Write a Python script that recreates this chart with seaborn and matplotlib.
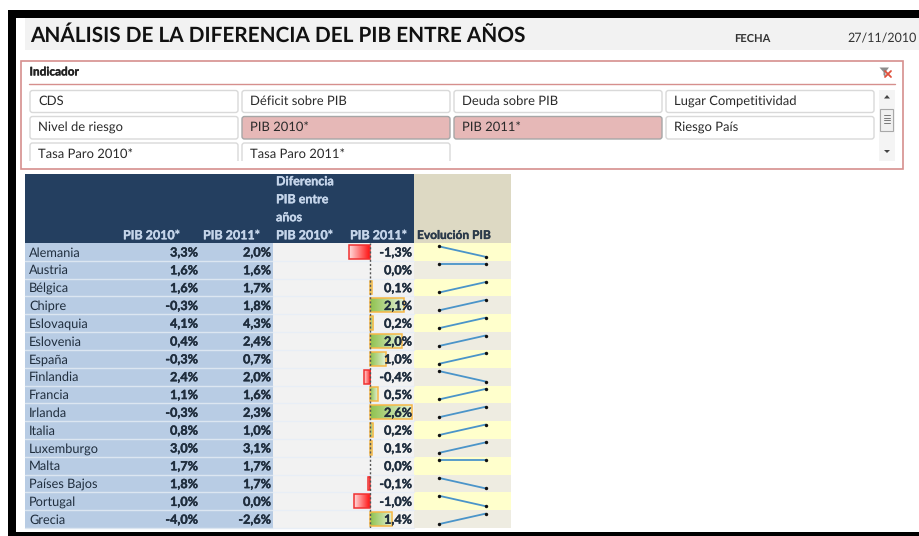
import matplotlib
matplotlib.use("Agg")
import matplotlib.patheffects as pe
import matplotlib.pyplot as plt
import numpy as np
import pandas as pd
import seaborn as sns
from matplotlib.colors import LinearSegmentedColormap
from matplotlib.patches import FancyBboxPatch, Polygon, Rectangle

W, H = 920, 536

countries = ["Alemania", "Austria", "Bélgica", "Chipre", "Eslovaquia", "Eslovenia",
             "España", "Finlandia", "Francia", "Irlanda", "Italia", "Luxemburgo",
             "Malta", "Países Bajos", "Portugal", "Grecia"]
pib_2010 = [3.3, 1.6, 1.6, -0.3, 4.1, 0.4, -0.3, 2.4, 1.1, -0.3, 0.8, 3.0, 1.7, 1.8, 1.0, -4.0]
pib_2011 = [2.0, 1.6, 1.7, 1.8, 4.3, 2.4, 0.7, 2.0, 1.6, 2.3, 1.0, 3.1, 1.7, 1.7, 0.0, -2.6]
diferencia = [-1.3, 0.0, 0.1, 2.1, 0.2, 2.0, 1.0, -0.4, 0.5, 2.6, 0.2, 0.1, 0.0, -0.1, -1.0, 1.4]

indicadores = [["CDS", "Déficit sobre PIB", "Deuda sobre PIB", "Lugar Competitividad"],
               ["Nivel de riesgo", "PIB 2010*", "PIB 2011*", "Riesgo País"],
               ["Tasa Paro 2010*", "Tasa Paro 2011*"]]
seleccionados = ["PIB 2010*", "PIB 2011*"]

NAVY = "#243f60"
TXT = "#1f2d3d"
FONT = "Lato"

sns.set_theme(style="white")
plt.rcParams["font.family"] = [FONT, "DejaVu Sans"]
plt.rcParams["text.hinting"] = "no_hinting"


def pct(v):
    return f"{v:.1f}%".replace(".", ",")


def heavy(color):
    return [pe.withStroke(linewidth=0.25, foreground=color)]


def px_axes(fig, z):
    ax = fig.add_axes([0, 0, 1, 1], zorder=z)
    ax.set_xlim(0, W)
    ax.set_ylim(H, 0)
    ax.axis("off")
    ax.patch.set_alpha(0)
    return ax


def cell_axes(fig, x0, y0, x1, y1, z):
    ax = fig.add_axes([x0 / W, 1 - y1 / H, (x1 - x0) / W, (y1 - y0) / H], zorder=z)
    ax.patch.set_alpha(0)
    return ax


def rect(ax, x0, y0, x1, y1, **kw):
    kw.setdefault("lw", 0)
    ax.add_patch(Rectangle((x0, y0), x1 - x0, y1 - y0, **kw))


fig = plt.figure(figsize=(W / 100, H / 100), dpi=100, facecolor="white")
bg = px_axes(fig, 0)
fg = px_axes(fig, 5)

# marco negro y banda del titulo
rect(bg, 8, 10, W, 18, fc="black")
rect(bg, 8, 10, 16, H, fc="black")
rect(bg, 8, 532, W, H, fc="black")
rect(bg, 25, 18, W, 50, fc="#f2f2f2")
bg.text(30, 35, "ANÁLISIS DE LA DIFERENCIA DEL PIB ENTRE AÑOS", fontsize=14.95,
        fontweight="bold", color="#111111", va="center")
bg.text(734, 38.5, "FECHA", fontsize=8, fontweight="bold", color="#333333", va="center")
bg.text(917, 38.5, "27/11/2010", fontsize=9, color="#333333", va="center", ha="right")

# segmentador
rect(bg, 21.5, 60.5, 903, 169, fc="white", ec="#d68f8d", lw=1.2)
bg.plot([29.5, 895], [84, 84], color="#d68f8d", lw=1)
bg.text(29.5, 72, "Indicador", fontsize=8.5, fontweight="bold", color="#222222", va="center",
        path_effects=heavy("#222222"))
btn_x = [30, 242, 454, 666]
btn_y = [(90.5, 112.5), (116.5, 139), (143, 166)]
for r, fila in enumerate(indicadores):
    for c, nombre in enumerate(fila):
        x0 = btn_x[c]
        y0, y1 = btn_y[r]
        sel = nombre in seleccionados
        b = FancyBboxPatch((x0, y0), 208, y1 - y0, boxstyle="round,pad=0,rounding_size=2.5",
                           fc="#e6b8b7" if sel else "white",
                           ec="#a6a6a6" if sel else "#d9d9d9", lw=1)
        bg.add_patch(b)
        bg.text(x0 + 8.5, (y0 + 11), nombre, fontsize=9.4, color="#2a2a2a", va="center")
rect(bg, 23, 161, 878, 168, fc="white")

# barra de scroll e icono de filtro
rect(bg, 879, 90, 895, 161, fc="#f4f4f4")
rect(bg, 880.5, 108.5, 893.5, 130.5, fc="#f0f0f0", ec="#a8a8a8", lw=0.8)
for yy in (115, 117.5, 120, 122.5):
    bg.plot([884, 890], [yy, yy], color="#777777", lw=0.7)
bg.add_patch(Polygon([[884, 98.5], [890, 98.5], [887, 95]], fc="#444444", lw=0))
bg.add_patch(Polygon([[884, 150], [890, 150], [887, 153]], fc="#444444", lw=0))
bg.add_patch(Polygon([[879.5, 67.5], [889, 67.5], [885.5, 72], [885.5, 77], [883.5, 75], [883.5, 72]],
                     fc="#8c8c8c", lw=0))
bg.plot([885, 891], [71, 77], color="#e0503c", lw=1.3)
bg.plot([891, 885], [71, 77], color="#e0503c", lw=1.3)

# tabla
top, head_end, bottom = 174, 243, 528
row_h = (bottom - head_end) / len(countries)
rect(bg, 25, top, 414, head_end, fc=NAVY)
rect(bg, 414, top, 511, head_end, fc="#ddd9c3")
num = dict(fontsize=9.1, fontweight="bold", color=TXT, va="center", ha="right", path_effects=heavy(TXT))
for i, name in enumerate(countries):
    y0 = head_end + i * row_h
    y1 = y0 + row_h
    rect(bg, 25, y0, 273, y1, fc="#b8cce4")
    rect(bg, 273, y0, 414, y1, fc="#f2f2f2")
    rect(bg, 414, y0, 511, y1, fc="#ffffcc" if i % 2 == 0 else "#eeece1")
    bg.plot([25, 273], [y1, y1], color="#dce6f1", lw=1)
    bg.plot([273, 414], [y1, y1], color="#e8eef6", lw=1)
    yc = (y0 + y1) / 2 + 0.9
    bg.text(29, yc, name, fontsize=9.2, color=TXT, va="center")
    bg.text(198, yc, pct(pib_2010[i]), **num)
    bg.text(271, yc, pct(pib_2011[i]), **num)
    fg.text(412, yc, pct(diferencia[i]), **num)

hdr = dict(fontsize=9, fontweight="bold", color="#c5d5ea", va="center", path_effects=heavy("#c5d5ea"))
bg.text(180, 235.5, "PIB 2010*", ha="right", **hdr)
bg.text(260, 235.5, "PIB 2011*", ha="right", **hdr)
for y, s in zip((181.5, 199.5, 217.5, 235.5), ("Diferencia", "PIB entre", "años", "PIB 2010*")):
    bg.text(276, y, s, **hdr)
bg.text(407, 235.5, "PIB 2011*", ha="right", **hdr)
bg.text(417, 235.5, "Evolución PIB", fontsize=8.6, fontweight="bold", color="#2b3a4a", va="center",
        path_effects=heavy("#2b3a4a"))

# barras de diferencia, con degradado
ax_bar = cell_axes(fig, 273, head_end, 414, bottom, 2)
df = pd.DataFrame({"pais": countries, "dif": diferencia})
sns.barplot(data=df, x="dif", y="pais", orient="h", width=0.78, ax=ax_bar, color="white")
xlim = ((273 - 370) / 16, (414 - 370) / 16)
ylim = ax_bar.get_ylim()
verde = LinearSegmentedColormap.from_list("verde", ["#8fc24f", "#e4f1d6"])
rojo = LinearSegmentedColormap.from_list("rojo", ["#ffdcdc", "#ff1414"])
grad = np.linspace(0, 1, 64).reshape(1, -1)
for p, v in zip(ax_bar.patches, diferencia):
    p.set_facecolor("none")
    if v == 0:
        p.set_visible(False)
        continue
    p.set_edgecolor("#f6b746" if v > 0 else "#f03030")
    p.set_linewidth(1.1)
    x0, y0, w, h = p.get_x(), p.get_y(), p.get_width(), p.get_height()
    ax_bar.imshow(grad, cmap=verde if v > 0 else rojo, aspect="auto", zorder=1,
                  extent=(min(x0, x0 + w), max(x0, x0 + w), y0 + h, y0))
    p.set_zorder(2)
ax_bar.axvline(0, color="#555555", lw=1, ls=(0, (1.5, 1.5)), zorder=3)
ax_bar.set_xlim(xlim)
ax_bar.set_ylim(ylim)
ax_bar.axis("off")

# minigraficos de evolucion
for i, (a, b) in enumerate(zip(pib_2010, pib_2011)):
    y0 = head_end + i * row_h
    ax_s = cell_axes(fig, 414, y0, 511, y0 + row_h, 3)
    serie = pd.DataFrame({"anio": [0, 1], "pib": [a, b]})
    sns.lineplot(data=serie, x="anio", y="pib", ax=ax_s, color="#4a94c9", lw=1.3, zorder=1)
    ax_s.scatter([0, 1], [a, b], s=6, color="#111111", zorder=2, lw=0)
    lo, hi = min(a, b), max(a, b)
    r = hi - lo if hi > lo else 1.0
    ax_s.set_ylim(lo - 0.38 * r if hi > lo else hi - 1.38 * r, hi + 0.33 * r)
    ax_s.set_xlim(-0.545, 1.545)
    ax_s.axis("off")

fig.savefig("out.png", dpi=100)
